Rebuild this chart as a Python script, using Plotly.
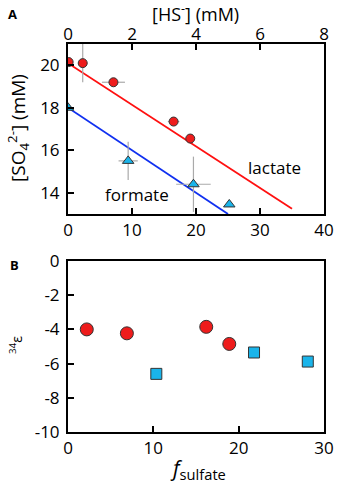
import plotly.graph_objects as go

# Panel A data
lac_x = [0.1, 2.3, 7.1, 16.5, 19.1]
lac_y = [20.15, 20.1, 19.2, 17.35, 16.55]
lac_ex = [0.0, 0.3, 1.8, 0.9, 0.0]
lac_ey = [0.0, 0.9, 0.0, 0.0, 0.0]

for_x = [0.0, 9.4, 19.6, 25.2]
for_y = [18.0, 15.5, 14.4, 13.45]
for_ex = [0.0, 1.5, 2.7, 0.0]
for_ey = [0.0, 0.9, 1.3, 0.0]

lac_fit_x = [0.0, 35.0]
lac_fit_y = [20.1, 13.25]
for_fit_x = [0.0, 25.0]
for_fit_y = [18.0, 13.0]

# Panel B data
epsB_lac_x = [2.2, 6.9, 16.2, 18.9]
epsB_lac_y = [-4.0, -4.23, -3.85, -4.85]
epsB_for_x = [10.35, 21.8, 28.1]
epsB_for_y = [-6.6, -5.35, -5.88]

xA_ticks = [0, 10, 20, 30, 40]
yA_ticks = [14, 16, 18, 20]
xTop_ticks = [0, 2, 4, 6, 8]
xB_ticks = [0, 10, 20, 30]
yB_ticks = [0, -2, -4, -6, -8, -10]
yB_labels = ["0", "-2", "-4", "-6", "-8", "-10"]

RED = "#ee1c1c"
BLUE = "#1ab4ea"
FONT = "Open Sans"

fig = go.Figure()

err = dict(type="data", color="#aaaaaa", thickness=1.2, width=0)

fig.add_trace(go.Scatter(x=lac_fit_x, y=lac_fit_y, mode="lines",
                         line=dict(color="#ff1010", width=1.8), xaxis="x", yaxis="y"))
fig.add_trace(go.Scatter(x=for_fit_x, y=for_fit_y, mode="lines",
                         line=dict(color="#1030f0", width=1.8), xaxis="x", yaxis="y"))
fig.add_trace(go.Scatter(x=lac_x, y=lac_y, mode="markers",
                         error_x=dict(array=lac_ex, **err), error_y=dict(array=lac_ey, **err),
                         marker=dict(symbol="circle", size=9, color=RED, line=dict(color="#333", width=1)),
                         xaxis="x", yaxis="y"))
fig.add_trace(go.Scatter(x=for_x, y=for_y, mode="markers",
                         error_x=dict(array=for_ex, **err), error_y=dict(array=for_ey, **err),
                         marker=dict(symbol="triangle-up", size=10, color=BLUE, line=dict(color="#333", width=1)),
                         xaxis="x", yaxis="y"))
fig.add_trace(go.Scatter(x=epsB_lac_x, y=epsB_lac_y, mode="markers",
                         marker=dict(symbol="circle", size=13, color=RED, line=dict(color="#333", width=1)),
                         xaxis="x2", yaxis="y2"))
fig.add_trace(go.Scatter(x=epsB_for_x, y=epsB_for_y, mode="markers",
                         marker=dict(symbol="square", size=11, color=BLUE, line=dict(color="#333", width=1)),
                         xaxis="x2", yaxis="y2"))
# invisible trace to activate the top [HS-] axis
fig.add_trace(go.Scatter(x=[xTop_ticks[0]], y=[yA_ticks[0]], mode="markers", marker=dict(opacity=0),
                         xaxis="x3", yaxis="y", hoverinfo="skip"))

tickfont = dict(family=FONT, size=17, color="black")
axis_common = dict(showline=True, linecolor="black", linewidth=2, mirror=True,
                   ticks="inside", ticklen=6, tickwidth=1.5, tickcolor="black",
                   showgrid=False, zeroline=False, automargin=False,
                   tickfont=tickfont)

xd = [68/340, 324/340]
fig.update_layout(
    template="none",
    width=340, height=484,
    margin=dict(l=0, r=0, t=0, b=0, pad=0),
    paper_bgcolor="white", plot_bgcolor="white",
    showlegend=False,
    xaxis=dict(domain=xd, range=[0, 40], tickvals=xA_ticks, anchor="y", **axis_common),
    yaxis=dict(domain=[1-214/484, 1-44/484], range=[13, 21], tickvals=yA_ticks, anchor="x",
               ticklabelstandoff=3, **axis_common),
    xaxis3=dict(overlaying="x", side="top", range=[0, 8], tickvals=xTop_ticks, anchor="y",
                showline=False, ticks="inside", ticklen=6, tickwidth=1.5, tickcolor="black",
                showgrid=False, zeroline=False, automargin=False, tickfont=tickfont),
    xaxis2=dict(domain=xd, range=[0, 30], tickvals=xB_ticks, anchor="y2", **axis_common),
    yaxis2=dict(domain=[1-432/484, 1-261/484], range=[-10, 0], tickvals=yB_ticks,
                ticktext=yB_labels, anchor="x2", ticklabelstandoff=3, **axis_common),
)

annotations = [
    dict(text="<b>A</b>", x=12/340, y=1-14/484, font=dict(size=13)),
    dict(text="<b>B</b>", x=14/340, y=1-265/484, font=dict(size=13)),
    dict(text="[HS<sup>-</sup>] (mM)", x=195/340, y=1-13/484, font=dict(size=18)),
    dict(text="[SO<sub>4</sub><sup>2-</sup>] (mM)", x=18/340, y=1-128/484, font=dict(size=19), textangle=-90),
    dict(text="<sup>34</sup>ε", x=16/340, y=1-345/484, font=dict(size=14), textangle=-90),
    dict(text="<i>f</i><sub>sulfate</sub>", x=198/340, y=1-469/484, font=dict(size=21)),
]
for a in annotations:
    a.update(xref="paper", yref="paper", showarrow=False, xanchor="center", yanchor="middle")
    a["font"] = dict(family=FONT, color="black", **a["font"])
fig.update_layout(annotations=annotations)

fig.add_annotation(text="lactate", x=32.3, y=15.2, xref="x", yref="y", showarrow=False,
                   font=dict(family=FONT, size=17, color="black"))
fig.add_annotation(text="formate", x=10.8, y=13.9, xref="x", yref="y", showarrow=False,
                   font=dict(family=FONT, size=17, color="black"))

fig.write_html("out.html", config={"displayModeBar": False},
               post_script="document.body.style.margin='0px';document.body.style.overflow='hidden';")
